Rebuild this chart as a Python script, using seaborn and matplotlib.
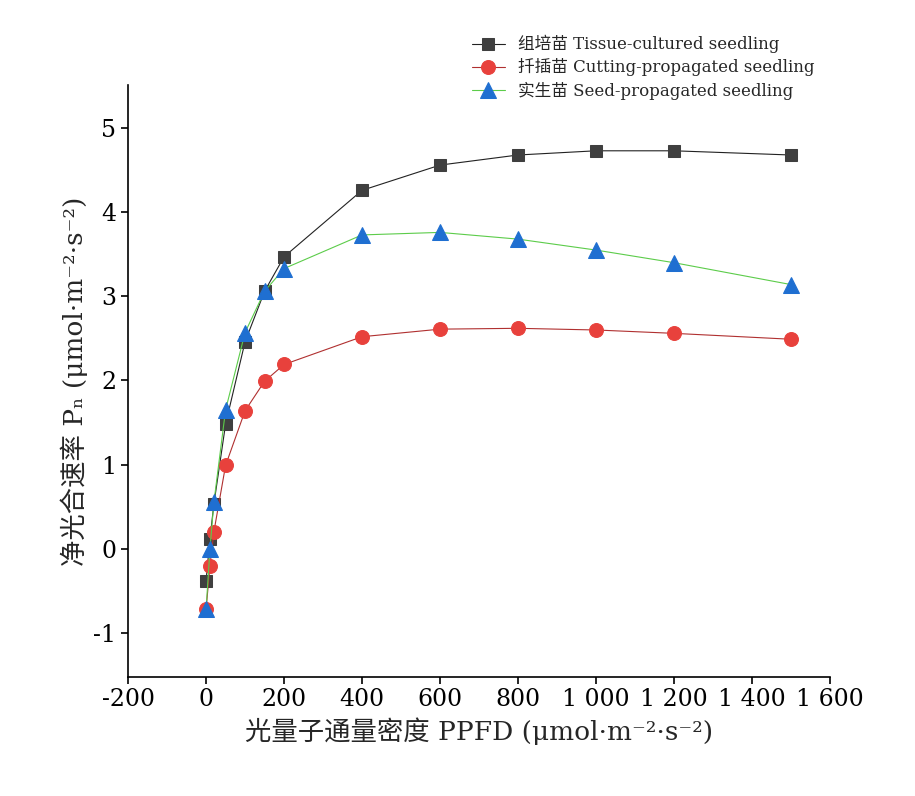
import numpy as np
import pandas as pd
import matplotlib
matplotlib.use("Agg")
import matplotlib.pyplot as plt
import seaborn as sns

ppfd = [0, 10, 20, 50, 100, 150, 200, 400, 600, 800, 1000, 1200, 1500]
tissue = [-0.38, 0.12, 0.53, 1.48, 2.46, 3.06, 3.47, 4.26, 4.56, 4.68, 4.73, 4.73, 4.68]
cutting = [-0.72, -0.20, 0.20, 0.99, 1.64, 1.99, 2.19, 2.52, 2.61, 2.62, 2.60, 2.56, 2.49]
seed = [-0.72, 0.00, 0.55, 1.65, 2.57, 3.06, 3.33, 3.73, 3.76, 3.68, 3.55, 3.40, 3.14]
names = ["组培苗 Tissue-cultured seedling", "扦插苗 Cutting-propagated seedling", "实生苗 Seed-propagated seedling"]

sns.set_style("white")
plt.rcParams['font.family'] = ['DejaVu Serif', 'Noto Sans CJK SC']
plt.rcParams['axes.unicode_minus'] = False

fig = plt.figure(figsize=(9.15, 7.96), dpi=100)
ax = fig.add_axes([0.14, 0.15, 0.767, 0.743])

styles = [("s", "#3f3f3f", "#222222", 9), ("o", "#e8413c", "#b03030", 10), ("^", "#1f6fd1", "#5ccc4a", 11)]
for vals, name, (m, c, lc, ms) in zip([tissue, cutting, seed], names, styles):
    sns.lineplot(x=ppfd, y=vals, ax=ax, marker=m, color=lc, markerfacecolor=c,
                 markeredgecolor=c, markersize=ms, linewidth=0.8, label=name)

ax.set_xlim(-200, 1600)
ax.set_ylim(-1.52, 5.51)
ax.set_xticks(range(-200, 1601, 200))
ax.set_xticklabels([f"{v:,}".replace(",", " ") for v in range(-200, 1601, 200)])
ax.set_yticks(range(-1, 6))
for s in ["top", "right"]:
    ax.spines[s].set_visible(False)
for s in ["left", "bottom"]:
    ax.spines[s].set_color("black")
    ax.spines[s].set_linewidth(1.2)
ax.tick_params(direction="out", length=5, width=1.2, labelsize=17, colors="black", left=True, bottom=True)
ax.set_xlabel("光量子通量密度 PPFD (μmol·m⁻²·s⁻²)", fontsize=19)
ax.set_ylabel("净光合速率 Pₙ (μmol·m⁻²·s⁻²)", fontsize=19)
ax.legend(loc="upper right", bbox_to_anchor=(1.0, 1.11), frameon=False, fontsize=12,
          handlelength=2, labelspacing=0.3)
fig.savefig("out.png", dpi=100)
